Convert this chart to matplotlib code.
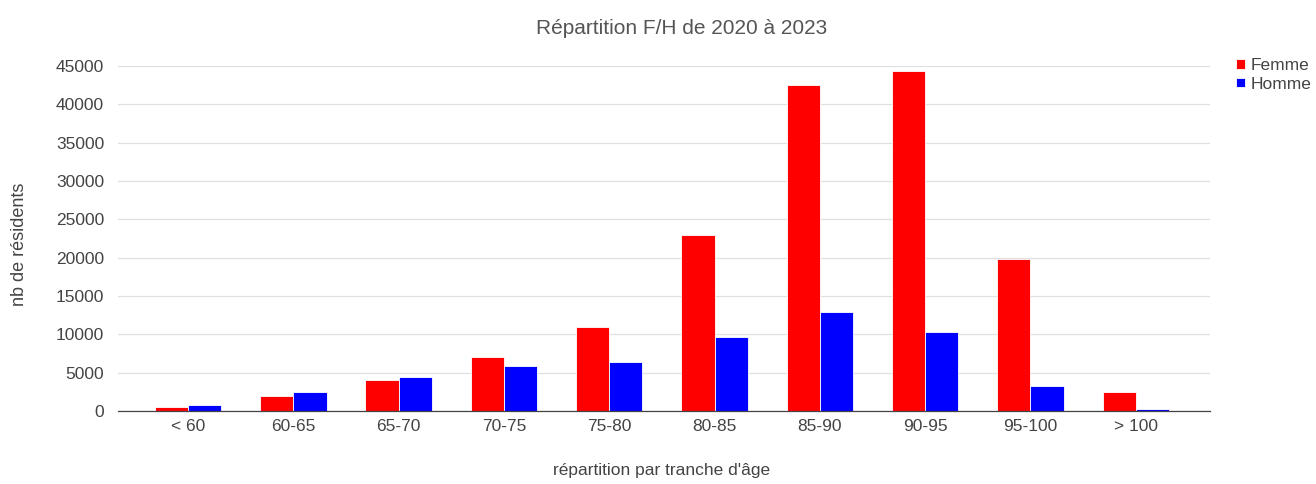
import numpy as np
import matplotlib
matplotlib.use('Agg')
import matplotlib.pyplot as plt

plt.rcParams['font.family'] = ['Liberation Sans', 'DejaVu Sans']

# Data
categories = ['< 60', '60-65', '65-70', '70-75', '75-80', '80-85', '85-90', '90-95', '95-100', '> 100']
femme = [500, 1900, 4000, 7000, 11000, 23000, 42500, 44400, 19800, 2500]
homme = [800, 2500, 4400, 5900, 6400, 9600, 12900, 10300, 3200, 300]

TEXT = '#555555'
LABEL = '#444444'

fig = plt.figure(figsize=(13.16, 4.84), dpi=100)
ax = fig.add_axes([118 / 1316, 1 - 411 / 484, (1210 - 118) / 1316, (411 - 66) / 484])

x = np.arange(len(categories))
w = 0.315
ax.bar(x - w / 2, femme, width=w, color='#ff0000', edgecolor='white', linewidth=0.6, label='Femme', zorder=3)
ax.bar(x + w / 2, homme, width=w, color='#0000ff', edgecolor='white', linewidth=0.6, label='Homme', zorder=3)

ax.set_xlim(-0.665, 9.705)
ax.set_ylim(0, 45000)
ax.set_yticks(range(0, 45001, 5000))
ax.set_xticks(x)
ax.set_xticklabels(categories)
ax.tick_params(axis='both', length=0, labelsize=12.5, colors=LABEL)
ax.tick_params(axis='y', pad=10)
ax.tick_params(axis='x', pad=6)

ax.grid(axis='y', color='#e0e0e0', linewidth=0.9, zorder=0)
for s in ['top', 'right', 'left']:
    ax.spines[s].set_visible(False)
ax.spines['bottom'].set_color('#444444')
ax.spines['bottom'].set_linewidth(0.9)
ax.spines['bottom'].set_zorder(4)

fig.text(682 / 1316, 1 - 28 / 484, 'Répartition F/H de 2020 à 2023', ha='center', va='center',
         fontsize=15, color=TEXT)
fig.text(20 / 1316, 1 - 244 / 484, 'nb de résidents', rotation=90, ha='center', va='center',
         fontsize=13, color=LABEL)
fig.text(662 / 1316, 1 - 470 / 484, "répartition par tranche d'âge", ha='center', va='center',
         fontsize=12.5, color=LABEL)

ax.legend(loc='upper left', bbox_to_anchor=(1.013, 1.058), frameon=False, fontsize=12.5,
          handlelength=0.5, handleheight=0.5, handletextpad=0.35, labelspacing=0.2,
          labelcolor=LABEL, borderpad=0.2)

plt.savefig('out.png', dpi=100)
